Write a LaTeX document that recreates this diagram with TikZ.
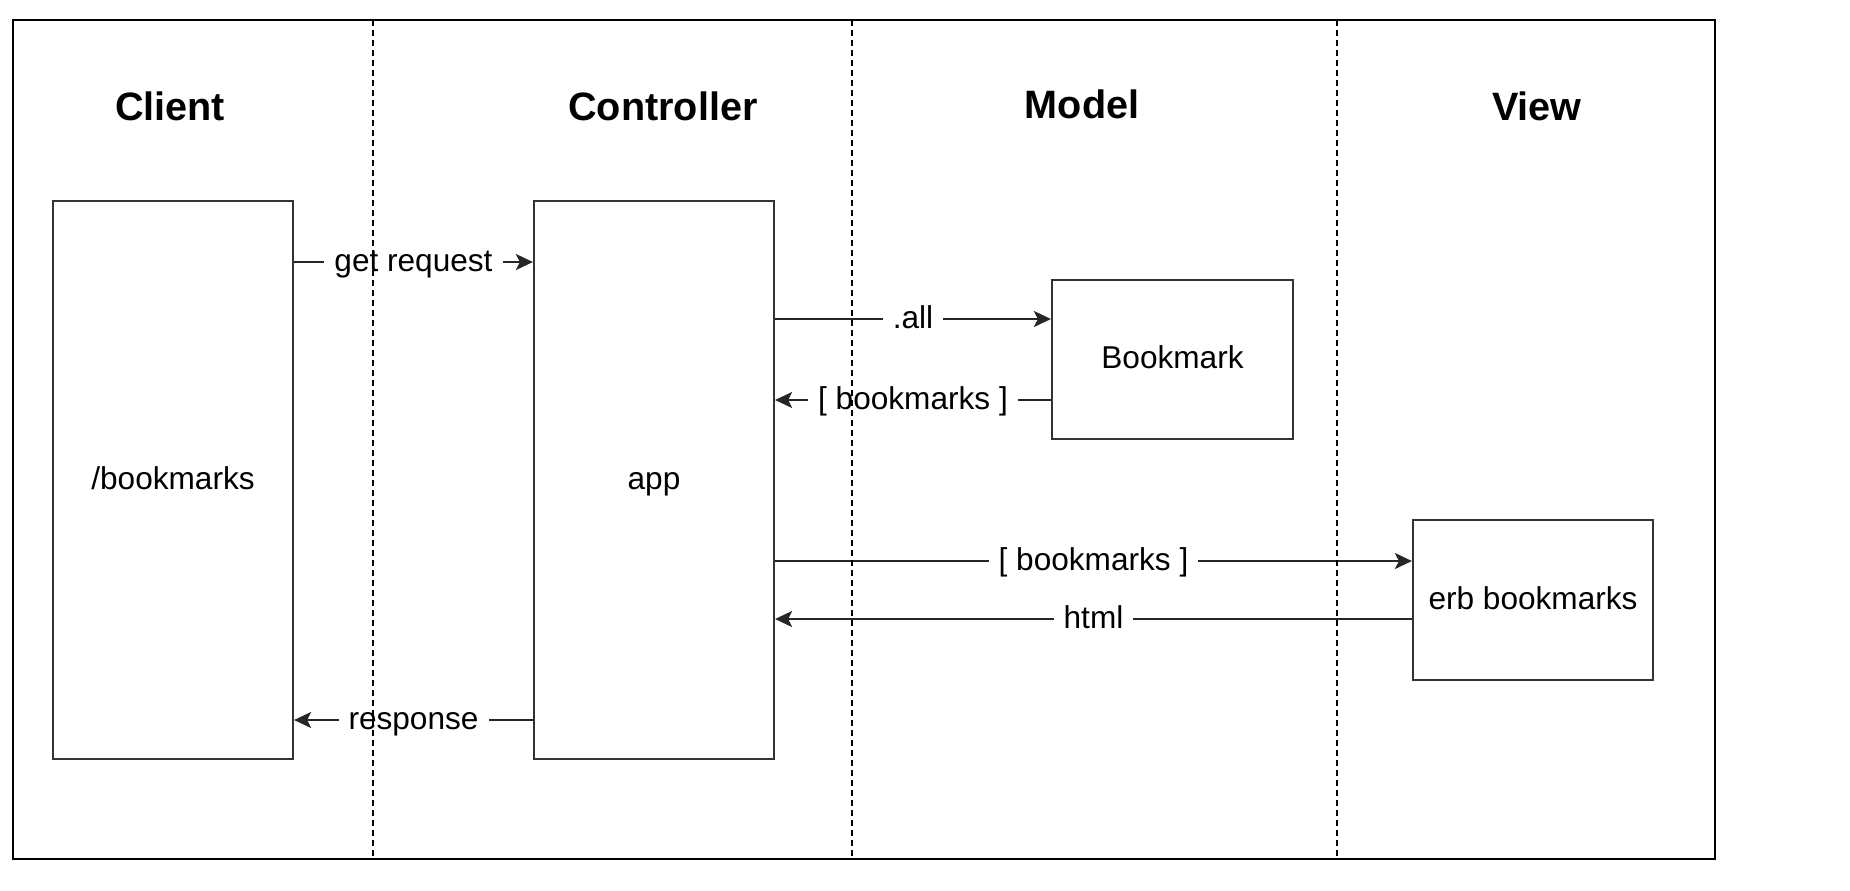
\documentclass[tikz,border=0pt]{standalone}
\usepackage{fontspec}
\setmainfont{Liberation Sans}
\usetikzlibrary{arrows.meta}
\begin{document}
\begin{tikzpicture}[x=0.5pt,y=-0.5pt,
  every node/.style={font=\fontsize{15.8}{19}\selectfont, text height=0.96em, text depth=0.02em, inner sep=0pt},
  box/.style={draw=black!80, line width=1.1pt, minimum width=120pt, text=black},
  title/.style={font=\fontsize{19.8}{24}\selectfont\bfseries, anchor=base},
  conn/.style={line width=1.2pt, black!85},
  tip/.style={-{Stealth[length=8.5pt,width=8pt,inset=2pt]}},
  lbl/.style={midway, fill=white, text=black, inner xsep=5pt, inner ysep=0pt},
  lane/.style={line width=0.9pt, dash pattern=on 3pt off 2pt}]
\useasboundingbox (0,0) rectangle (1850,890);
\fill[white] (0,0) rectangle (1850,890);
% frame
\draw[line width=1.2pt] (13,20) rectangle (1715,859);
% titles
\node[title] (tclient) at (170,120) {Client};
\node[title] (tctrl) at (663,120) {Controller};
\node[title] (tmodel) at (1082,118) {Model};
\node[title] (tview) at (1537,120) {View};
% boxes
\node[box, minimum height=279pt] (client) at (173,480) {/bookmarks};
\node[box, minimum height=279pt] (app) at (654,480) {app};
\node[box, minimum width=120.5pt, minimum height=79.5pt] (bm) at (1172.5,359.5) {Bookmark};
\node[box, minimum height=80pt] (erb) at (1533,600) {erb bookmarks};
% levels
\coordinate (y1) at (0,262);
\coordinate (y2) at (0,319);
\coordinate (y3) at (0,400);
\coordinate (y4) at (0,561);
\coordinate (y5) at (0,619);
\coordinate (y6) at (0,720);
% connectors
\draw[conn,tip] (client.east |- y1) -- node[lbl]{get request} (app.west |- y1);
\draw[conn,tip] (app.east |- y2) -- node[lbl]{.all} (bm.west |- y2);
\draw[conn,tip] (bm.west |- y3) -- node[lbl]{[ bookmarks ]} (app.east |- y3);
\draw[conn,tip] (app.east |- y4) -- node[lbl]{[ bookmarks ]} (erb.west |- y4);
\draw[conn,tip] (erb.west |- y5) -- node[lbl]{html} (app.east |- y5);
\draw[conn,tip] (app.west |- y6) -- node[lbl]{response} (client.east |- y6);
% swimlane separators
\draw[lane] (373,20) -- (373,859);
\draw[lane] (852,20) -- (852,859);
\draw[lane] (1337,20) -- (1337,859);
\end{tikzpicture}
\end{document}
